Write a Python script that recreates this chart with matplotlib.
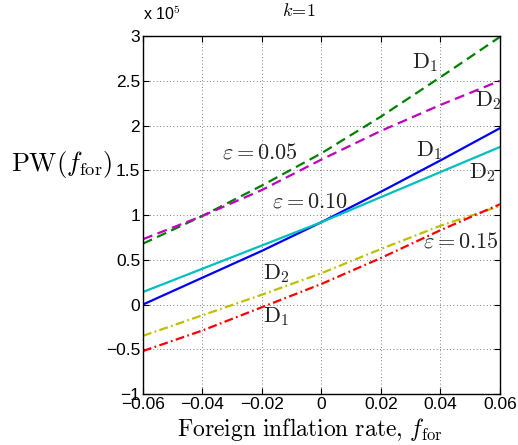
import numpy as np
import matplotlib
matplotlib.use("Agg")
import matplotlib.pyplot as plt

plt.rcParams['mathtext.fontset'] = 'cm'
plt.rcParams['font.family'] = ['Liberation Sans', 'DejaVu Sans']

# foreign inflation rate grid
f_for = [-0.06, -0.04, -0.02, 0.0, 0.02, 0.04, 0.06]

# present worth (x 1e5) for the two designs at each epsilon
pw_d1_e05 = [0.68, 0.99, 1.33, 1.69, 2.10, 2.54, 2.99]
pw_d2_e05 = [0.73, 0.99, 1.28, 1.62, 1.94, 2.23, 2.50]
pw_d1_e10 = [0.00, 0.30, 0.60, 0.92, 1.26, 1.61, 1.97]
pw_d2_e10 = [0.14, 0.40, 0.66, 0.92, 1.20, 1.48, 1.76]
pw_d2_e15 = [-0.35, -0.12, 0.11, 0.35, 0.62, 0.88, 1.10]
pw_d1_e15 = [-0.52, -0.29, -0.03, 0.23, 0.52, 0.83, 1.12]

fig = plt.figure(figsize=(5.18, 4.45), dpi=100)
ax = fig.add_axes([0.276, 0.1146, 0.689, 0.8044])

x = np.array(f_for)
dashed = (0, (4.5, 2.5))
dashdot = (0, (4, 1.5, 0.8, 1.5))
ax.plot(x, pw_d1_e05, color=(0, 0.5, 0), ls=dashed, lw=1.6)
ax.plot(x, pw_d2_e05, color=(0.75, 0, 0.75), ls=dashed, lw=1.6)
ax.plot(x, pw_d1_e10, color=(0, 0, 1), ls='-', lw=1.6)
ax.plot(x, pw_d2_e10, color=(0, 0.75, 0.75), ls='-', lw=1.6)
ax.plot(x, pw_d2_e15, color=(0.75, 0.75, 0), ls=dashdot, lw=1.6)
ax.plot(x, pw_d1_e15, color=(1, 0, 0), ls=dashdot, lw=1.6)

ax.set_xlim(-0.06, 0.06)
ax.set_ylim(-1, 3)
ax.set_xticks([-0.06, -0.04, -0.02, 0, 0.02, 0.04, 0.06])
ax.set_xticklabels(['\u22120.06', '\u22120.04', '\u22120.02', '0', '0.02', '0.04', '0.06'])
ax.set_yticks([-1, -0.5, 0, 0.5, 1, 1.5, 2, 2.5, 3])
ax.set_yticklabels(['\u22121', '\u22120.5', '0', '0.5', '1', '1.5', '2', '2.5', '3'])
ax.tick_params(direction='in', top=True, right=True, labelsize=12.5, length=4, pad=2)
ax.grid(True, ls=(0, (1, 3)), color='#555555', lw=0.6)
for s in ax.spines.values():
    s.set_linewidth(1.0)

# curve annotations
lbl = dict(fontsize=16, color='#222222')
ax.text(0.0305, 2.70, r'$\mathrm{D}_1$', va='center', **lbl)
ax.text(0.0515, 2.28, r'$\mathrm{D}_2$', va='center', **lbl)
ax.text(-0.0335, 1.69, r'$\varepsilon = 0.05$', va='center', **lbl)
ax.text(0.0318, 1.72, r'$\mathrm{D}_1$', va='center', **lbl)
ax.text(0.0497, 1.47, r'$\mathrm{D}_2$', va='center', **lbl)
ax.text(-0.0166, 1.15, r'$\varepsilon = 0.10$', va='center', **lbl)
ax.text(0.034, 0.70, r'$\varepsilon = 0.15$', va='center', **lbl)
ax.text(-0.0197, 0.34, r'$\mathrm{D}_2$', va='center', **lbl)
ax.text(-0.0197, -0.13, r'$\mathrm{D}_1$', va='center', **lbl)

ax.set_xlabel(r'$\mathrm{Foreign\ inflation\ rate,}\,f_{\mathrm{for}}$', fontsize=17, labelpad=0)
ax.xaxis.set_label_coords(0.5 - 12 / 357, -0.062)
fig.text(0.217, 1 - 165 / 445, r'$\mathrm{PW}(f_{\mathrm{for}})$', fontsize=19,
         ha='right', va='center')
fig.text(0.276, 1 - 14 / 445, r'x 10$^5$', fontsize=11.5, ha='left', va='center')
fig.text(0.578, 1 - 12 / 445, r'$k\!=\!1$', fontsize=13, ha='center', va='center')

fig.savefig('out.png', dpi=100)
